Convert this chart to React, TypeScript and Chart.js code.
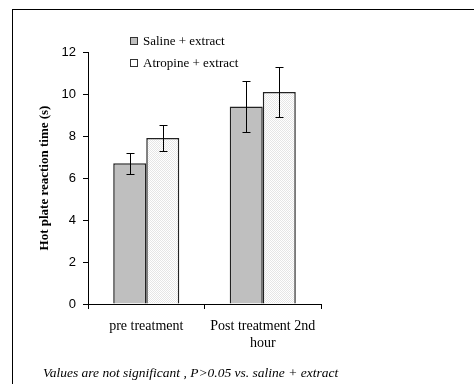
import React, { useEffect, useRef } from "react";
import { Chart, registerables } from "chart.js";

Chart.register(...registerables);

const categories: (string | string[])[] = ["pre treatment", ["Post treatment 2nd", "hour"]];
const seriesNames = ["Saline + extract", "Atropine + extract"];
const salineMeans = [6.7, 9.4];
const salineErr = [0.5, 1.2];
const atropineMeans = [7.9, 10.1];
const atropineErr = [0.6, 1.2];
const yTicksMin = 0;
const yTicksMax = 12;
const yStep = 2;
const yTitle = "Hot plate reaction time (s)";
const footnote = "Values are not significant , P>0.05 vs. saline + extract";

function makePattern(): CanvasPattern | string {
  const c = document.createElement("canvas");
  c.width = 2;
  c.height = 2;
  const g = c.getContext("2d");
  if (!g) return "#f4f4f4";
  g.fillStyle = "#ffffff";
  g.fillRect(0, 0, 2, 2);
  g.fillStyle = "#e6e6e6";
  g.fillRect(0, 0, 1, 1);
  g.fillRect(1, 1, 1, 1);
  const p = g.createPattern(c, "repeat");
  return p || "#f4f4f4";
}

const errorBarPlugin = {
  id: "errorBars",
  afterDatasetsDraw(chart: any) {
    const ctx = chart.ctx;
    const yScale = chart.scales.y;
    ctx.save();
    ctx.strokeStyle = "#000";
    ctx.lineWidth = 1;
    chart.data.datasets.forEach((ds: any, i: number) => {
      const meta = chart.getDatasetMeta(i);
      meta.data.forEach((el: any, j: number) => {
        const v = ds.data[j];
        const e = ds.errors[j];
        const x = Math.round(el.x) + 0.5;
        const yHi = Math.round(yScale.getPixelForValue(v + e)) + 0.5;
        const yLo = Math.round(yScale.getPixelForValue(v - e)) + 0.5;
        ctx.beginPath();
        ctx.moveTo(x, yHi);
        ctx.lineTo(x, yLo);
        ctx.moveTo(x - 4, yHi);
        ctx.lineTo(x + 4, yHi);
        ctx.moveTo(x - 4, yLo);
        ctx.lineTo(x + 4, yLo);
        ctx.stroke();
      });
    });
    ctx.restore();
  },
};

const legendPlugin = {
  id: "customLegend",
  afterDraw(chart: any) {
    const ctx = chart.ctx;
    const area = chart.chartArea;
    ctx.save();
    ctx.font = "13px 'Liberation Serif'";
    ctx.textBaseline = "middle";
    ctx.textAlign = "left";
    chart.data.datasets.forEach((ds: any, i: number) => {
      const cy = area.top - 11 + i * 22;
      const sx = area.left + 42;
      ctx.fillStyle = ds.legendColor;
      ctx.fillRect(sx, cy - 4, 8, 8);
      ctx.strokeStyle = "#333";
      ctx.lineWidth = 1;
      ctx.strokeRect(sx + 0.5, cy - 3.5, 7, 7);
      ctx.fillStyle = "#000";
      ctx.fillText(ds.label, sx + 13, cy + 1);
    });
    ctx.restore();
  },
};

export default function App() {
  const ref = useRef<HTMLCanvasElement>(null);

  useEffect(() => {
    if (!ref.current) return;
    const pattern = makePattern();
    const chart = new Chart(ref.current, {
      type: "bar",
      data: {
        labels: categories,
        datasets: [
          {
            label: seriesNames[0],
            data: salineMeans,
            errors: salineErr,
            legendColor: "#bfbfbf",
            backgroundColor: "#bfbfbf",
            borderColor: "#222",
            borderWidth: 1.5,
            categoryPercentage: 0.567,
            barPercentage: 1.0,
          } as any,
          {
            label: seriesNames[1],
            data: atropineMeans,
            errors: atropineErr,
            legendColor: "#ffffff",
            backgroundColor: pattern,
            borderColor: "#222",
            borderWidth: 1.5,
            categoryPercentage: 0.567,
            barPercentage: 1.0,
          } as any,
        ],
      },
      options: {
        animation: false,
        responsive: false,
        maintainAspectRatio: false,
        layout: { padding: { left: 37.2, top: 52, right: 154, bottom: 0 } },
        plugins: {
          legend: { display: false },
          tooltip: { enabled: false },
          title: { display: false },
        },
        scales: {
          x: {
            type: "category",
            offset: true,
            grid: {
              display: true,
              drawOnChartArea: false,
              drawTicks: true,
              tickLength: 5,
              color: "#000",
              offset: true,
            },
            border: { display: true, color: "#000", width: 1 },
            ticks: {
              color: "#000",
              padding: 8,
              maxRotation: 0,
              autoSkip: false,
              font: { family: "'Liberation Serif'", size: 14, lineHeight: 1.27 },
            },
            afterFit: (s: any) => {
              s.height = 80;
            },
          },
          y: {
            min: yTicksMin,
            max: yTicksMax,
            grid: {
              display: true,
              drawOnChartArea: false,
              drawTicks: true,
              tickLength: 5,
              color: "#000",
            },
            border: { display: true, color: "#000", width: 1 },
            ticks: {
              stepSize: yStep,
              color: "#000",
              padding: 7,
              font: { family: "'Liberation Sans'", size: 13 },
            },
            title: {
              display: true,
              text: yTitle,
              color: "#000",
              padding: { top: 0, bottom: 10 },
              font: { family: "'Liberation Serif'", size: 13, weight: "bold", lineHeight: 1.2 },
            },
            afterFit: (s: any) => {
              s.width = 50.8;
            },
          },
        },
      },
      plugins: [errorBarPlugin, legendPlugin],
    } as any);
    return () => chart.destroy();
  }, []);

  return (
    <div style={{ position: "fixed", left: 0, top: 0, width: 475, height: 384, overflow: "hidden", background: "#fff" }}>
      <div
        style={{
          position: "absolute",
          left: 12,
          top: 9,
          width: 462,
          height: 380,
          borderTop: "1px solid #000",
          borderLeft: "1px solid #000",
          boxSizing: "border-box",
        }}
      />
      <canvas ref={ref} width={475} height={384} style={{ position: "absolute", left: 0, top: 0, width: 475, height: 384 }} />
      <div
        style={{
          position: "absolute",
          left: 43,
          top: 365,
          fontFamily: "'Liberation Serif'",
          fontStyle: "italic",
          fontSize: 13.5,
          lineHeight: "16px",
          color: "#000",
          whiteSpace: "nowrap",
        }}
      >
        {footnote}
      </div>
    </div>
  );
}
